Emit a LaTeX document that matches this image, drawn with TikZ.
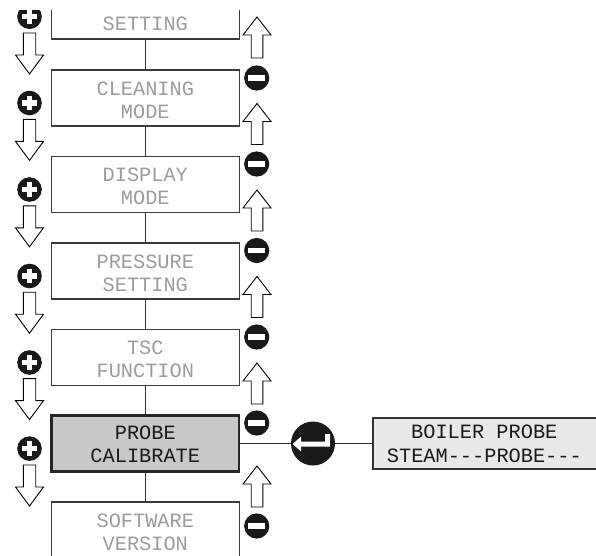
\documentclass[tikz,border=0pt]{standalone}
\usepackage{fontspec}
\setmonofont{Liberation Mono}
\definecolor{boxc}{HTML}{3A3A3A}
\definecolor{txtc}{HTML}{9C9C9C}
\definecolor{selfill}{HTML}{C8C8C8}
\definecolor{rfill}{HTML}{E8E8E8}
\begin{document}
\begin{tikzpicture}[x=1pt,y=-1pt,
  box/.style={draw=boxc, line width=1.1pt, fill=white, minimum width=187.5pt, minimum height=56pt, inner sep=0pt},
  selbox/.style={box, draw=black!85, line width=2.6pt, fill=selfill},
  rbox/.style={draw=black!80, line width=1.4pt, fill=rfill, minimum width=227pt, minimum height=51pt, inner sep=0pt},
  lbl/.style={font=\fontsize{20.3}{23}\selectfont\ttfamily, text=txtc, inner sep=0pt, anchor=base},
  sellbl/.style={lbl, text=black!90},
  conn/.style={draw=black!80, line width=1.1pt},
  arrline/.style={draw=black, line width=0.9pt, fill=white, line join=miter},
  enterc/.style={circle, fill=black!90, minimum size=44pt, inner sep=0pt},
  downarr/.pic={\path[arrline] (-6.2,0) -- (-6.2,22) -- (-14,22) -- (0,41) -- (14,22) -- (6.2,22) -- (6.2,0) -- cycle;},
  uparr/.pic={\path[arrline] (0,0) -- (14,18) -- (5.8,18) -- (5.8,41) -- (-5.8,41) -- (-5.8,18) -- (-14,18) -- cycle;},
  plusic/.pic={\fill[black!90] (0,0) circle (12.3);
     \fill[white] (-7.3,-2.6) rectangle (7.3,2.6);
     \fill[white] (-2.6,-7.3) rectangle (2.6,7.3);},
  minusic/.pic={\fill[black!90] (0,0) circle (12.6);
     \fill[white] (-8.4,-2.6) rectangle (8.4,2.6);}
]
\useasboundingbox (0,0) rectangle (596,555);
\clip (0,10) rectangle (596,555);

% menu boxes
\node[box] (b1) at (145.3,11) {};
\node[box] (b2) at (145.3,98) {};
\node[box] (b3) at (145.3,184.5) {};
\node[box] (b4) at (145.3,271) {};
\node[box] (b5) at (145.3,357.5) {};
\node[selbox] (b6) at (145.3,443.5) {};
\node[box] (b7) at (145.3,530) {};

% connectors between boxes
\draw[conn] (b1.south) -- (b2.north);
\draw[conn] (b2.south) -- (b3.north);
\draw[conn] (b3.south) -- (b4.north);
\draw[conn] (b4.south) -- (b5.north);
\draw[conn] (b5.south) -- (b6.north);
\draw[conn] (b6.south) -- (b7.north);

% labels
\node[lbl] (t1) at (145.3,30.5) {SETTING};
\node[lbl] (t2a) at (145.3,95) {CLEANING};
\node[lbl] (t2b) at (145.3,118) {MODE};
\node[lbl] (t3a) at (145.3,181.5) {DISPLAY};
\node[lbl] (t3b) at (145.3,204.5) {MODE};
\node[lbl] (t4a) at (145.3,268) {PRESSURE};
\node[lbl] (t4b) at (145.3,291) {SETTING};
\node[lbl] (t5a) at (145.3,354.5) {TSC};
\node[lbl] (t5b) at (145.3,377.5) {FUNCTION};
\node[sellbl] (t6a) at (145.3,439.5) {PROBE};
\node[sellbl] (t6b) at (145.3,462.5) {CALIBRATE};
\node[lbl] (t7a) at (145.3,527) {SOFTWARE};
\node[lbl] (t7b) at (145.3,550) {VERSION};

% enter button and result box
\node[enterc] (enter) at (313,443.5) {};
\node[rbox] (res) at (486.5,443.5) {};
\draw[conn] (b6.east) -- (enter.west);
\draw[conn] (enter.east) -- (res.west);
\fill[white, shift={(enter.center)}] (-20.3,0.5) -- (-12,-7) -- (-12,-2) -- (12,-2) -- (12,-9.5) -- (17,-9.5) -- (17,3) -- (-12,3) -- (-12,8) -- cycle;
\node[sellbl, anchor=base west] (r1) at (411,438) {BOILER PROBE};
\node[sellbl, anchor=base west] (r2) at (386.7,462.3) {STEAM---PROBE---};

% left: plus and down arrows
\foreach \y in {16.7,103,189.5,276,362.5,448.6} \pic at (29.5,\y) {plusic};
\foreach \y in {33,119.4,205.8,292.2,378.6,465} \pic at (29.5,\y) {downarr};

% right: minus and up arrows
\foreach \y in {78,164,250.5,337,423,526} \pic at (256.7,\y) {minusic};
\foreach \y in {17,103.5,190,276.5,363,466} \pic at (257,\y) {uparr};
\end{tikzpicture}
\end{document}
